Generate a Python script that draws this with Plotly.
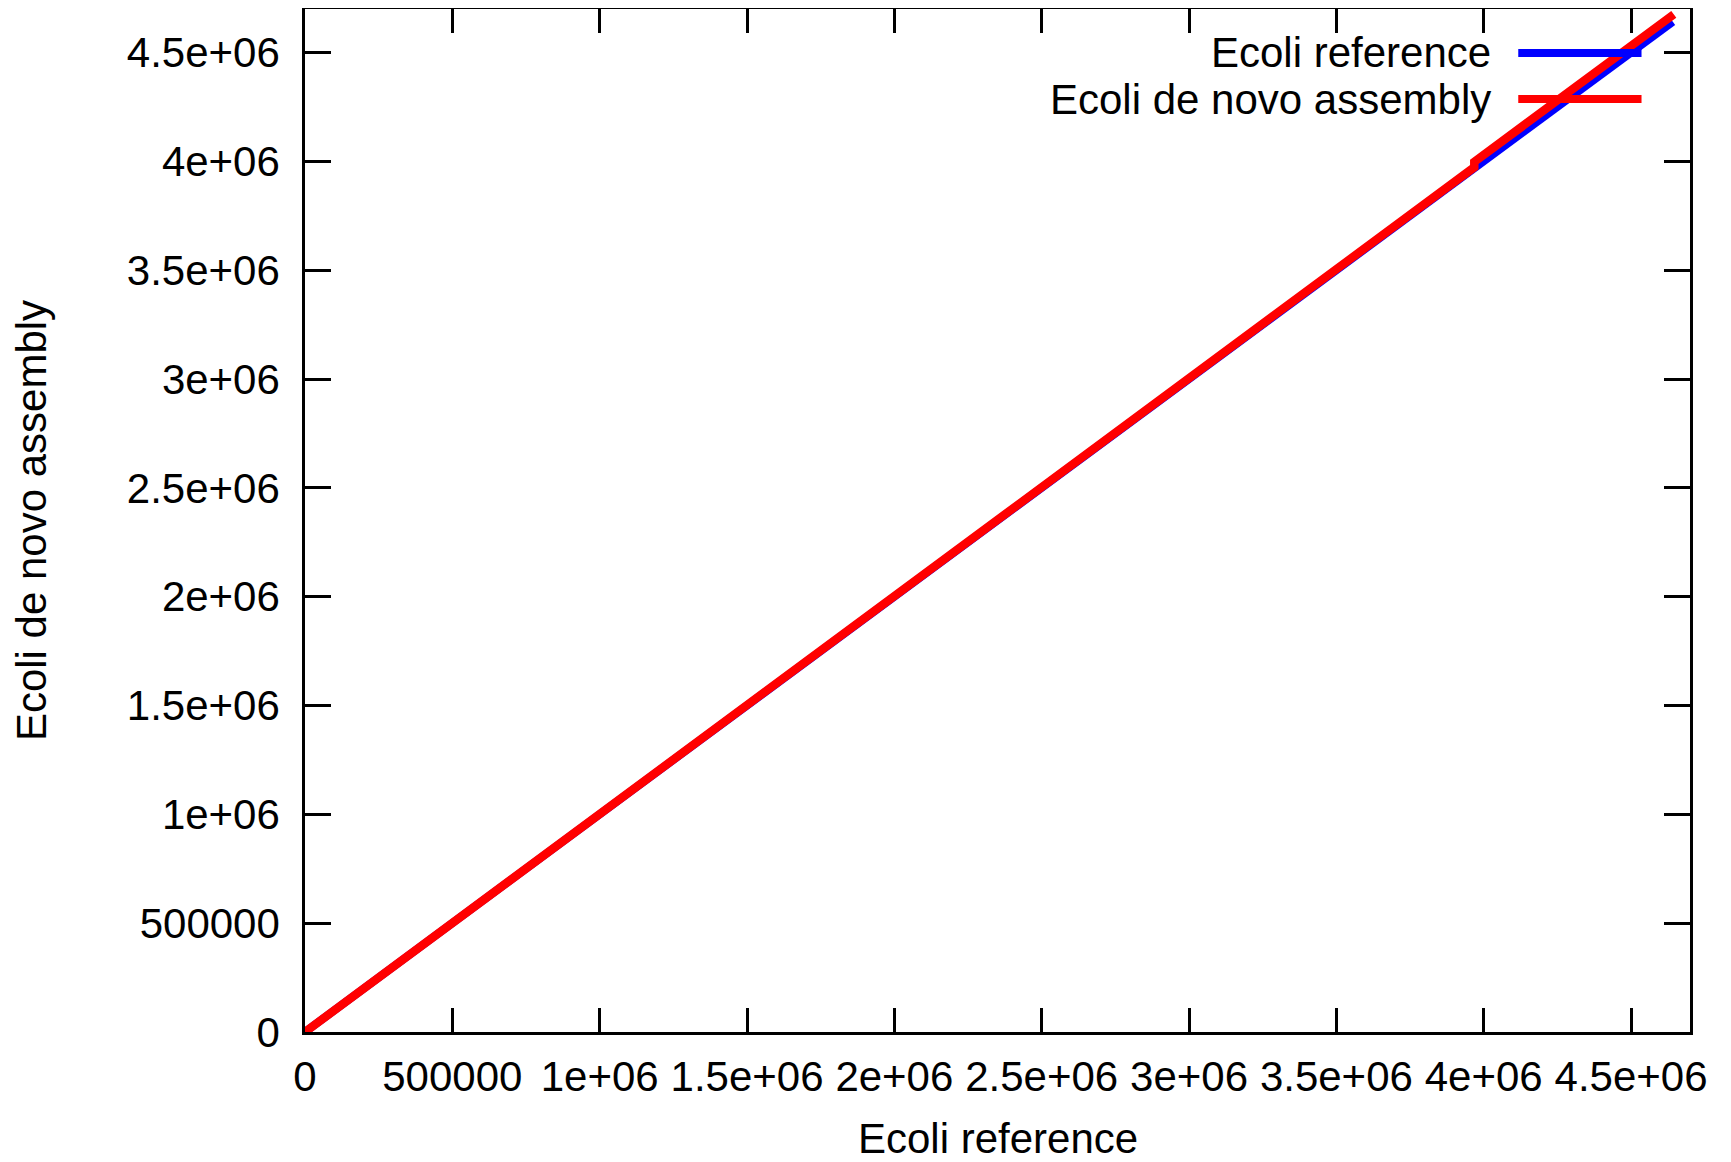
import plotly.graph_objects as go

# Data
ref_x = [0, 4641652]
ref_y = [0, 4641652]
asm_x = [0, 1210000, 1211000, 2370000, 2371000, 3968000, 3968000, 4645000]
asm_y = [0, 1210000, 1214000, 2374000, 2376000, 3973000, 3998000, 4675000]

tick_vals = [0, 500000, 1000000, 1500000, 2000000, 2500000, 3000000, 3500000, 4000000, 4500000]
tick_text = ["0", "500000", "1e+06", "1.5e+06", "2e+06", "2.5e+06", "3e+06", "3.5e+06", "4e+06", "4.5e+06"]

series_names = ["Ecoli reference", "Ecoli de novo assembly"]
series_colors = ["#0000ff", "#ff0000"]
x_title = "Ecoli reference"
y_title = "Ecoli de novo assembly"

FONT = "Liberation Sans, Arial, sans-serif"
FS = 42

fig = go.Figure()
fig.add_trace(go.Scatter(x=ref_x, y=ref_y, mode="lines", name=series_names[0],
                         line=dict(color=series_colors[0], width=8), showlegend=False))
fig.add_trace(go.Scatter(x=asm_x, y=asm_y, mode="lines", name=series_names[1],
                         line=dict(color=series_colors[1], width=8.5), showlegend=False))

axis_common = dict(
    tickvals=tick_vals, ticktext=tick_text, range=[0, 4700000],
    showgrid=False, zeroline=False, showline=True, linecolor="black", linewidth=2.5,
    mirror="allticks", ticks="inside", tickcolor="black", tickwidth=2.5,
    tickfont=dict(family=FONT, size=FS, color="black"), tickangle=0,
)

fig.update_xaxes(**axis_common, ticklen=24, ticklabelstandoff=6)
fig.update_yaxes(**axis_common, ticklen=26, ticklabelstandoff=14,
                 title=dict(text=y_title, font=dict(family=FONT, size=FS, color="black"), standoff=72))

# x-axis title placed as an annotation to match the reference position
fig.add_annotation(xref="paper", yref="paper", x=0.5, y=-0.1045, text=x_title, showarrow=False,
                   xanchor="center", yanchor="middle", font=dict(family=FONT, size=FS, color="black"))

# Custom legend (text left, line sample right, as in the reference)
leg_y = [0.957, 0.912]
for name, col, yy in zip(series_names, series_colors, leg_y):
    fig.add_annotation(xref="paper", yref="paper", x=0.858, y=yy, text=name, showarrow=False,
                       xanchor="right", yanchor="middle", font=dict(family=FONT, size=FS, color="black"))
    fig.add_shape(type="line", xref="paper", yref="paper", x0=0.876, x1=0.965, y0=yy, y1=yy,
                  line=dict(color=col, width=8))

fig.update_layout(
    width=1723, height=1154,
    margin=dict(l=297, r=41, t=1, b=130, autoexpand=False),
    paper_bgcolor="white", plot_bgcolor="white",
    showlegend=False,
)

fig.write_html("out.html")
